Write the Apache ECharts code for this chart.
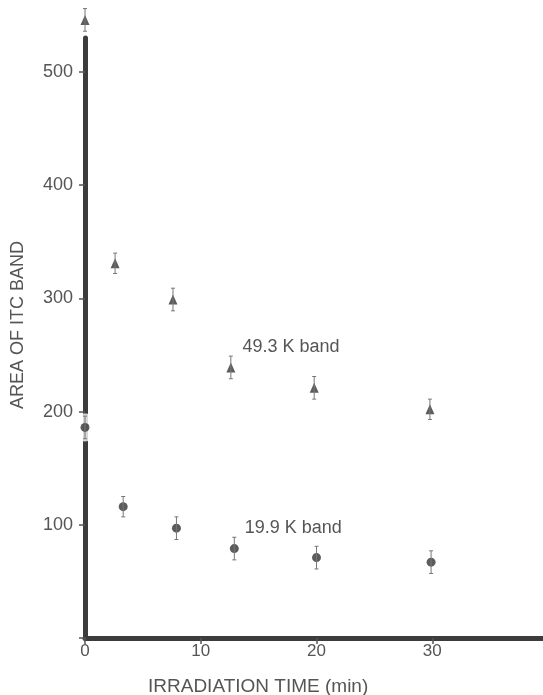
<!DOCTYPE html>
<html>
<head>
<meta charset="utf-8">
<script src="https://cdn.jsdelivr.net/npm/echarts@6/dist/echarts.min.js"></script>
<style>
  html, body { margin: 0; padding: 0; background: #fff; }
  #chart { width: 543px; height: 695px; }
</style>
</head>
<body>
<div id="chart"></div>
<script>
// 49.3 K band (triangles)
var triTime = [0, 2.6, 7.6, 12.6, 19.8, 29.8];
var triArea = [546, 331, 299, 239, 221, 202];
var triErr  = [10, 9, 10, 10, 10, 9];
// 19.9 K band (circles)
var dotTime = [0, 3.3, 7.9, 12.9, 20.0, 29.9];
var dotArea = [186, 116, 97, 79, 71, 67];
var dotErr  = [10, 9, 10, 10, 10, 10];

var xTicks = [0, 10, 20, 30];
var yTicks = [0, 100, 200, 300, 400, 500];
var yLabels = [100, 200, 300, 400, 500];

var FONT = '"Liberation Sans", Arial, sans-serif';
var TXT = '#555';
var AXIS = '#3c3c3c';
var MARK = '#333';

function pts(t, a) { return t.map(function (x, i) { return [x, a[i]]; }); }
function errPts(t, a, e) { return t.map(function (x, i) { return [x, a[i], e[i]]; }); }

function errRender(params, api) {
    var x = api.value(0), y = api.value(1), e = api.value(2);
    var top = api.coord([x, y + e]);
    var bot = api.coord([x, y - e]);
    var w = 2;
    var st = { stroke: '#777', lineWidth: 1 };
    return {
        type: 'group',
        children: [
            { type: 'line', shape: { x1: top[0], y1: top[1], x2: bot[0], y2: bot[1] }, style: st },
            { type: 'line', shape: { x1: top[0] - w, y1: top[1], x2: top[0] + w, y2: top[1] }, style: st },
            { type: 'line', shape: { x1: bot[0] - w, y1: bot[1], x2: bot[0] + w, y2: bot[1] }, style: st }
        ]
    };
}

// white halo where a point sits on the axis
var haloData = pts(triTime, triArea).concat(pts(dotTime, dotArea)).filter(function (p) { return p[0] === 0; });

var chart = echarts.init(document.getElementById('chart'));
var option = {
    animation: false,
    textStyle: { fontFamily: FONT },
    grid: { left: 85, right: -5, top: 38, bottom: 57, outerBoundsMode: 'none', containLabel: false },
    xAxis: {
        type: 'value',
        min: 0, max: 40, interval: 10,
        splitLine: { show: false },
        axisLine: { lineStyle: { color: AXIS, width: 5 } },
        axisTick: { customValues: xTicks, length: 6, lineStyle: { color: TXT, width: 1.5 } },
        axisLabel: { customValues: xTicks, margin: 5, fontSize: 17, color: TXT, fontFamily: FONT }
    },
    yAxis: {
        type: 'value',
        min: 0, max: 530, interval: 100,
        name: 'AREA OF ITC BAND',
        nameLocation: 'middle',
        nameGap: 58,
        nameTextStyle: { fontSize: 18, color: TXT, fontFamily: FONT, padding: [0, 0, 0, 26] },
        splitLine: { show: false },
        axisLine: { lineStyle: { color: AXIS, width: 5 } },
        axisTick: { customValues: yTicks, length: 6, lineStyle: { color: TXT, width: 1.5 } },
        axisLabel: { customValues: yLabels, margin: 12, fontSize: 18, color: TXT, fontFamily: FONT }
    },
    graphic: [{
        type: 'text',
        left: 148, top: 677,
        style: { text: 'IRRADIATION TIME (min)', fontSize: 19, fill: TXT, fontFamily: FONT }
    }],
    series: [
        {
            type: 'scatter', z: 2, clip: false, silent: true,
            symbol: 'circle', symbolSize: 28,
            itemStyle: { color: '#fff' },
            data: haloData
        },
        {
            type: 'scatter', z: 3, clip: false,
            symbol: 'triangle', symbolSize: [9, 10],
            itemStyle: { color: MARK },
            data: pts(triTime, triArea),
            markPoint: {
                symbol: 'circle', symbolSize: 0,
                label: { show: true, position: 'right', distance: 0, formatter: '49.3 K band', fontSize: 18, color: TXT, fontFamily: FONT },
                data: [{ coord: [13.6, 257] }]
            }
        },
        {
            type: 'scatter', z: 3, clip: false,
            symbol: 'circle', symbolSize: 9,
            itemStyle: { color: MARK },
            data: pts(dotTime, dotArea),
            markPoint: {
                symbol: 'circle', symbolSize: 0,
                label: { show: true, position: 'right', distance: 0, formatter: '19.9 K band', fontSize: 18, color: TXT, fontFamily: FONT },
                data: [{ coord: [13.8, 97] }]
            }
        },
        {
            type: 'custom', z: 4, clip: false,
            renderItem: errRender,
            data: errPts(triTime, triArea, triErr)
        },
        {
            type: 'custom', z: 4, clip: false,
            renderItem: errRender,
            data: errPts(dotTime, dotArea, dotErr)
        }
    ]
};
chart.setOption(option);
</script>
</body>
</html>
